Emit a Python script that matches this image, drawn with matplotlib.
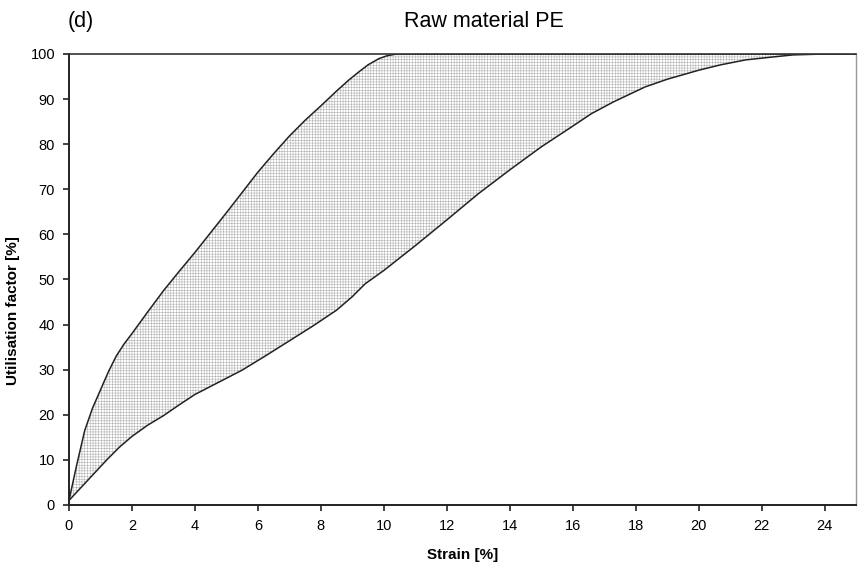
import numpy as np
import matplotlib
matplotlib.use("Agg")
import matplotlib.pyplot as plt

# -----------------------------------------
# Data
# -----------------------------------------

# upper boundary of the band (fast rise, hits 100 % near 10 % strain)
upper_strain = [0, 0.25, 0.5, 0.75, 1.0, 1.25, 1.5, 1.75, 2.0, 2.5, 3.0, 3.5, 4.0, 4.5,
                5.0, 5.5, 6.0, 6.5, 7.0, 7.5, 8.0, 8.5, 8.9, 9.2, 9.5, 9.85, 10.1, 10.4, 25.0]
upper_util = [1, 9, 16.5, 21.5, 25.5, 29.5, 33, 35.7, 38, 42.8, 47.5, 51.8, 56, 60.4,
              64.8, 69.3, 73.8, 77.9, 81.8, 85.3, 88.5, 91.8, 94.3, 96, 97.6, 99, 99.6, 100, 100]

# lower boundary of the band (slow rise, hits 100 % near 24 % strain)
lower_strain = [0, 0.4, 0.8, 1.2, 1.6, 2.0, 2.5, 3.0, 3.5, 4.0, 4.75, 5.5, 6.25, 7.0,
                7.75, 8.5, 9.0, 9.4, 10.0, 11.0, 12.0, 13.0, 14.0, 15.0, 16.0, 16.6,
                17.3, 18.3, 19.0, 20.0, 20.7, 21.5, 22.3, 23.0, 24.0, 25.0]
lower_util = [1, 4, 7, 10, 12.8, 15.2, 17.7, 19.8, 22.2, 24.5, 27.2, 29.9, 33.1, 36.4,
              39.7, 43.2, 46.2, 49, 52, 57.5, 63.2, 69, 74.3, 79.4, 84, 86.8,
              89.4, 92.7, 94.4, 96.4, 97.6, 98.7, 99.3, 99.8, 100, 100]

x_ticks = list(range(0, 25, 2))
y_ticks = list(range(0, 101, 10))

# -----------------------------------------
# Plot
# -----------------------------------------

plt.rcParams["font.family"] = ["Liberation Sans", "DejaVu Sans"]
plt.rcParams["hatch.linewidth"] = 0.4

fig = plt.figure(figsize=(8.61, 5.66), dpi=100)
ax = fig.add_axes([0.0801, 0.1078, 0.9142, 0.7968])

# shaded band between the two curves
poly_x = list(upper_strain) + list(reversed(lower_strain))
poly_y = list(upper_util) + list(reversed(lower_util))
ax.fill(poly_x, poly_y, facecolor="white", edgecolor="#b4b4b4",
        hatch="++++++", linewidth=0)

ax.plot(upper_strain, upper_util, color="#222222", linewidth=1.1, solid_joinstyle="round")
ax.plot(lower_strain, lower_util, color="#222222", linewidth=1.1, solid_joinstyle="round")

ax.set_xlim(0, 25)
ax.set_ylim(0, 100)
ax.set_xticks(x_ticks)
ax.set_yticks(y_ticks)
ax.tick_params(direction="out", length=4, width=1.2, labelsize=10.5, pad=6, color="#222222")

for side in ["left", "bottom"]:
    ax.spines[side].set_linewidth(1.4)
    ax.spines[side].set_color("#222222")
ax.spines["top"].set_linewidth(1.2)
ax.spines["top"].set_color("#333333")
ax.spines["right"].set_linewidth(1.0)
ax.spines["right"].set_color("#9a9a9a")

ax.set_xlabel("Strain [%]", fontsize=11, fontweight="bold")
ax.xaxis.set_label_coords(0.5, -0.095)
ax.set_ylabel("Utilisation factor [%]", fontsize=11, fontweight="bold")
ax.yaxis.set_label_coords(-0.062, 0.43)

fig.text(0.562, 0.962, "Raw material PE", fontsize=15.5, ha="center", va="center")
fig.text(0.079, 0.962, "(d)", fontsize=15.5, ha="left", va="center")

fig.savefig("out.png", dpi=100)
